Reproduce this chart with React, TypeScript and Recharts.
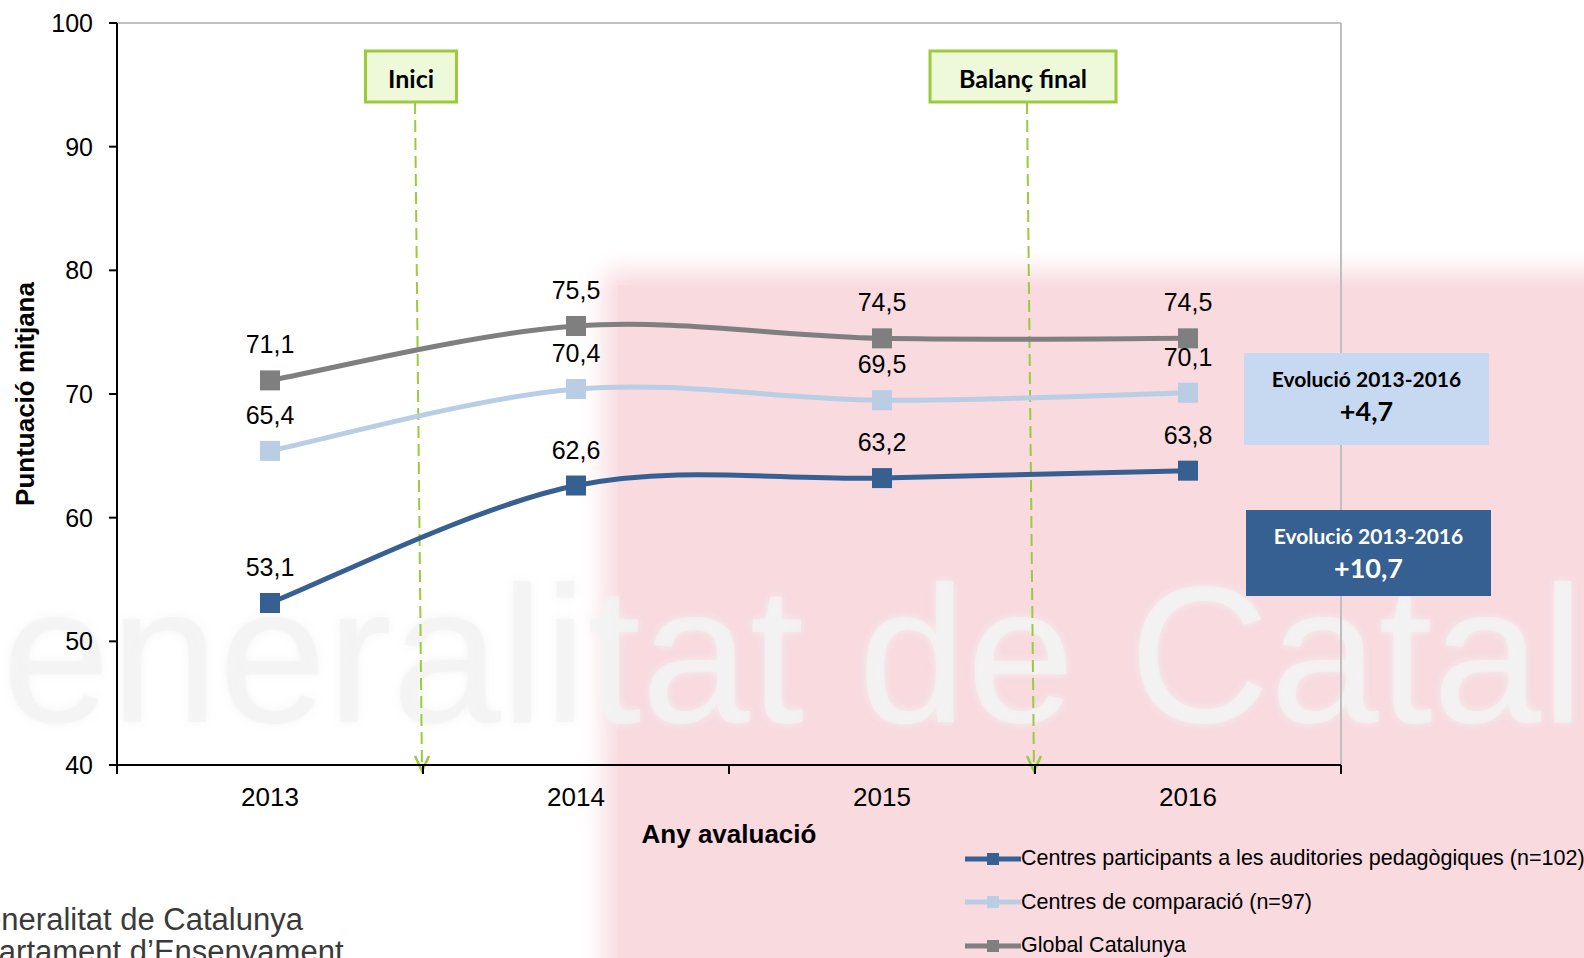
import React from "react";
import { LineChart, Line, XAxis, YAxis, ReferenceLine, LabelList, Legend } from "recharts";

const years = [2013, 2014, 2015, 2016];
const participants = [53.1, 62.6, 63.2, 63.8];
const comparison = [65.4, 70.4, 69.5, 70.1];
const globalCat = [71.1, 75.5, 74.5, 74.5];
const yTicks = [40, 50, 60, 70, 80, 90, 100];
const seriesNames = [
  "Centres participants a les auditories pedagògiques (n=102)",
  "Centres de comparació (n=97)",
  "Global Catalunya",
];
const phaseLabels = ["Inici", "Balanç final"];
const phaseAt = [2013.5, 2015.5];

const DARK = "#376092";
const LIGHT = "#B9CDE5";
const GREY = "#7F7F7F";
const GREEN = "#9BCB3B";
const FONT = "'Liberation Sans', Arial, sans-serif";
const CAL = "Lato, 'Open Sans', sans-serif";

const data = years.map((year, i) => ({
  year,
  participants: participants[i],
  comparison: comparison[i],
  globalCat: globalCat[i],
}));

// boundaries + centres, so the axis can draw ticks between the years
const xTicks = [...years.flatMap((y) => [y - 0.5, y]), years[years.length - 1] + 0.5];

const fmt = (v: any) => Number(v).toFixed(1).replace(".", ",");
const evo = (arr: number[]) => "+" + fmt(arr[arr.length - 1] - arr[0]);

// Excel-like smoothed line (Catmull-Rom as bezier)
const excelSmooth = (context: any) => {
  let pts: number[][] = [];
  return {
    areaStart() {},
    areaEnd() {},
    lineStart() { pts = []; },
    point(x: number, y: number) { pts.push([+x, +y]); },
    lineEnd() {
      if (!pts.length) return;
      context.moveTo(pts[0][0], pts[0][1]);
      for (let i = 0; i < pts.length - 1; i++) {
        const p0 = pts[Math.max(i - 1, 0)], p1 = pts[i], p2 = pts[i + 1];
        const p3 = pts[Math.min(i + 2, pts.length - 1)];
        context.bezierCurveTo(
          p1[0] + (p2[0] - p0[0]) / 6, p1[1] + (p2[1] - p0[1]) / 6,
          p2[0] - (p3[0] - p1[0]) / 6, p2[1] - (p3[1] - p1[1]) / 6,
          p2[0], p2[1]);
      }
    },
  };
};

const squareDot = (color: string) => (p: any) => (
  <rect key={`${p.dataKey}-${p.index}`} x={p.cx - 10} y={p.cy - 10} width={20} height={20} fill={color} />
);

const XTick = (p: any) => {
  const v = p.payload.value;
  if (Number.isInteger(v)) {
    return (
      <text x={p.x} y={p.y + 32} textAnchor="middle" dominantBaseline="central"
        fontSize={26} fontFamily={FONT} fill="#000">{v}</text>
    );
  }
  return <line x1={p.x} y1={p.y} x2={p.x} y2={p.y + 9} stroke="#000" strokeWidth={2} />;
};

const phaseShape = (label: string, boxW: number) => (p: any) => {
  const x = p.x1, top = Math.min(p.y1, p.y2), bottom = Math.max(p.y1, p.y2);
  const bx = x - 12 - boxW / 2, by = top + 28, bh = 51;
  const tipX = x - 1, tipY = bottom + 6;
  return (
    <g>
      <line x1={x - 8} y1={by + bh} x2={tipX} y2={tipY} stroke={GREEN} strokeWidth={2} strokeDasharray="12 6" />
      <polyline points={`${tipX - 7},${tipY - 15} ${tipX},${tipY} ${tipX + 7},${tipY - 15}`} fill="none" stroke={GREEN} strokeWidth={2.5} />
      <rect x={bx} y={by} width={boxW} height={bh} fill="#EEF9D9" stroke={GREEN} strokeWidth={3} />
      <text x={bx + boxW / 2} y={by + bh / 2 + 1} textAnchor="middle" dominantBaseline="central"
        fontSize={25} fontWeight={700} fontFamily={CAL} fill="#000">{label}</text>
    </g>
  );
};

const LegendBox = ({ payload }: any) => {
  const items = [...(payload || [])].sort(
    (a: any, b: any) => seriesNames.indexOf(a.value) - seriesNames.indexOf(b.value));
  return (
    <div style={{ fontFamily: FONT, fontSize: 21.5, color: "#000" }}>
      {items.map((e: any) => (
        <div key={e.value} style={{ display: "flex", alignItems: "center", height: 43.5, whiteSpace: "nowrap" }}>
          <svg width={56} height={20} style={{ flex: "none" }}>
            <line x1={0} y1={10} x2={56} y2={10} stroke={e.color} strokeWidth={5} strokeLinecap="round" />
            <rect x={22} y={4} width={12} height={12} fill={e.color} />
          </svg>
          <span>{e.value}</span>
        </div>
      ))}
    </div>
  );
};

const evoBox = (top: number, left: number, h: number, bg: string, fg: string, value: string) => (
  <div style={{ position: "absolute", left, top, width: 245, height: h, background: bg, color: fg,
    fontFamily: CAL, fontWeight: 700, textAlign: "center" }}>
    <div style={{ position: "absolute", left: 0, right: 0, top: 12, fontSize: 21, lineHeight: "28px" }}>Evolució 2013-2016</div>
    <div style={{ position: "absolute", left: 0, right: 0, top: 41, fontSize: 27, lineHeight: "34px" }}>{value}</div>
  </div>
);

export default function App() {
  return (
    <div style={{ position: "absolute", left: 0, top: 0, width: 1584, height: 958, overflow: "hidden", background: "#fff" }}>
      {/* faded logo watermark */}
      <div style={{ position: "absolute", left: 618, top: 285, width: 1010, height: 720, background: "#F8DADF",
        boxShadow: "0 0 24px 14px #F8DADF" }} />
      <div style={{ position: "absolute", left: -150, top: 557, fontSize: 195, lineHeight: 1, fontFamily: FONT,
        color: "rgba(243,243,243,0.75)", whiteSpace: "nowrap", textShadow: "0 0 10px rgba(243,243,243,0.9)" }}>Generalitat de Catalunya</div>
      <div style={{ position: "absolute", left: -40, top: 903, fontSize: 31, lineHeight: "34px", fontFamily: FONT, color: "#3a3a3a", whiteSpace: "nowrap" }}>Generalitat de Catalunya</div>
      <div style={{ position: "absolute", left: -58, top: 935, fontSize: 31, lineHeight: "34px", fontFamily: FONT, color: "#3a3a3a", whiteSpace: "nowrap" }}>Departament d’Ensenyament</div>

      <div style={{ position: "absolute", left: 0, top: 0 }}>
        <LineChart width={1584} height={958} data={data} margin={{ top: 23, right: 243, bottom: 133, left: 47 }}>
          <XAxis dataKey="year" type="number" domain={[2012.5, 2016.5]} ticks={xTicks} interval={0}
            tick={<XTick />} tickLine={false} tickSize={0} tickMargin={0} height={60}
            axisLine={{ stroke: "#000", strokeWidth: 2 }}
            label={(p: any) => (
              <text x={p.viewBox.x + p.viewBox.width / 2} y={p.viewBox.y + 69} textAnchor="middle" dominantBaseline="central"
                fontSize={26} fontWeight={700} fontFamily={FONT} fill="#000">Any avaluació</text>
            )} />
          <YAxis type="number" domain={[40, 100]} ticks={yTicks} width={70} interval={0}
            tick={{ fill: "#000", fontSize: 25, fontFamily: FONT }} tickSize={8} tickMargin={16}
            tickLine={{ stroke: "#000", strokeWidth: 2 }} axisLine={{ stroke: "#000", strokeWidth: 2 }}
            label={(p: any) => (
              <text transform={`translate(${p.viewBox.x - 22}, ${p.viewBox.y + p.viewBox.height / 2}) rotate(-90)`}
                textAnchor="middle" dominantBaseline="central" fontSize={26} fontWeight={700} fontFamily={FONT} fill="#000">
                Puntuació mitjana
              </text>
            )} />
          <ReferenceLine y={100} stroke="#BFBFBF" strokeWidth={2} />
          <ReferenceLine x={2016.5} stroke="#BFBFBF" strokeWidth={2} />
          {phaseAt.map((x, i) => (
            <ReferenceLine key={x} x={x} stroke={GREEN} shape={phaseShape(phaseLabels[i], i === 0 ? 91 : 186)} />
          ))}
          <Line dataKey="participants" name={seriesNames[0]} type={excelSmooth as any} stroke={DARK} strokeWidth={5}
            dot={squareDot(DARK)} activeDot={false} isAnimationActive={false}>
            <LabelList dataKey="participants" position="top" offset={27} formatter={fmt}
              style={{ fill: "#000", fontSize: 25, fontFamily: FONT }} />
          </Line>
          <Line dataKey="comparison" name={seriesNames[1]} type={excelSmooth as any} stroke={LIGHT} strokeWidth={5}
            dot={squareDot(LIGHT)} activeDot={false} isAnimationActive={false}>
            <LabelList dataKey="comparison" position="top" offset={27} formatter={fmt}
              style={{ fill: "#000", fontSize: 25, fontFamily: FONT }} />
          </Line>
          <Line dataKey="globalCat" name={seriesNames[2]} type={excelSmooth as any} stroke={GREY} strokeWidth={5}
            dot={squareDot(GREY)} activeDot={false} isAnimationActive={false}>
            <LabelList dataKey="globalCat" position="top" offset={27} formatter={fmt}
              style={{ fill: "#000", fontSize: 25, fontFamily: FONT }} />
          </Line>
          <Legend layout="vertical" align="center" verticalAlign="middle" content={<LegendBox />}
            wrapperStyle={{ left: 965, top: 837, width: 619 }} />
        </LineChart>
      </div>

      {evoBox(353, 1244, 92, "#C6D9F1", "#000", evo(comparison))}
      {evoBox(510, 1246, 86, DARK, "#fff", evo(participants))}
    </div>
  );
}
